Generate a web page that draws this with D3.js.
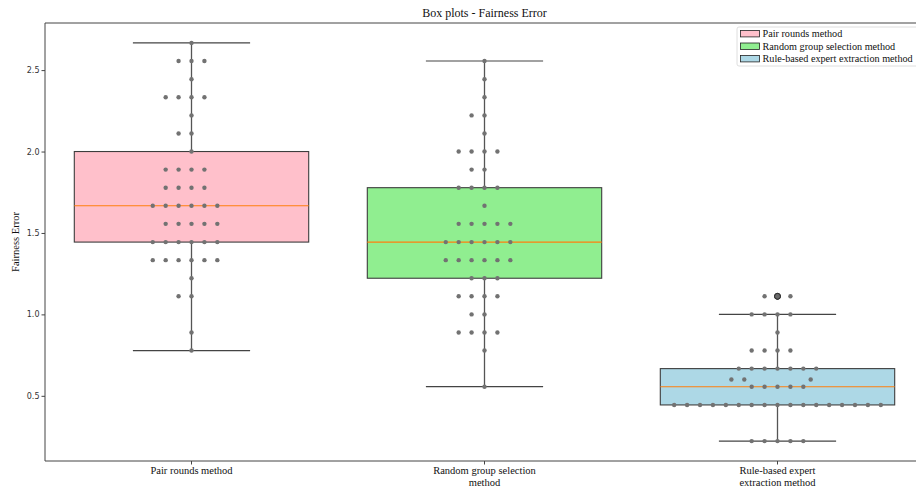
<!DOCTYPE html>
<html>
<head>
<meta charset="utf-8">
<script src="https://cdn.jsdelivr.net/npm/d3@7"></script>
<style>
    body { margin: 0; background: #fff; }
    svg { display: block; }
    .serif { font-family: "Liberation Serif", "Times New Roman", serif; }
    .sans { font-family: "DejaVu Sans", sans-serif; }
</style>
</head>
<body>
<div id="chart"></div>
<script>
    'use strict';

    // categories and colours of the three methods
    var categories = ['Pair rounds method', 'Random group selection method', 'Rule-based expert extraction method'];
    var tickLabels = [['Pair rounds method'], ['Random group selection', 'method'], ['Rule-based expert', 'extraction method']];
    var boxColors = ['pink', 'lightgreen', 'lightblue'];

    // fairness error of each run
    var pairRounds = [
        0.778, 0.889, 1.111, 1.111, 1.222,
        1.333, 1.333, 1.333, 1.333, 1.333, 1.333,
        1.444, 1.444, 1.444, 1.444, 1.444, 1.444,
        1.556, 1.556, 1.556, 1.556, 1.556,
        1.667, 1.667, 1.667, 1.667, 1.667, 1.667,
        1.778, 1.778, 1.778, 1.778,
        1.889, 1.889, 1.889, 1.889,
        2.000, 2.111, 2.111, 2.222,
        2.333, 2.333, 2.333, 2.333,
        2.444, 2.556, 2.556, 2.556, 2.667
    ];
    var randomGroup = [
        0.556, 0.778, 0.889, 0.889, 0.889, 0.889,
        1.000, 1.000, 1.111, 1.111, 1.111, 1.111,
        1.222, 1.222, 1.222,
        1.333, 1.333, 1.333, 1.333, 1.333, 1.333,
        1.444, 1.444, 1.444, 1.444, 1.444, 1.444,
        1.556, 1.556, 1.556, 1.556, 1.556,
        1.667, 1.778, 1.778, 1.778, 1.778,
        1.889, 1.889, 2.000, 2.000, 2.000, 2.000,
        2.111, 2.222, 2.222, 2.333, 2.444, 2.556
    ];
    var ruleBased = [
        0.222, 0.222, 0.222, 0.222, 0.222,
        0.444, 0.444, 0.444, 0.444, 0.444, 0.444, 0.444, 0.444, 0.444,
        0.444, 0.444, 0.444, 0.444, 0.444, 0.444, 0.444, 0.444,
        0.556, 0.556, 0.556, 0.556, 0.556,
        0.600, 0.600, 0.600,
        0.667, 0.667, 0.667, 0.667, 0.667, 0.667, 0.667,
        0.778, 0.778, 0.778, 0.778, 0.889,
        1.000, 1.000, 1.000, 1.000,
        1.111, 1.111, 1.111
    ];
    var series = [pairRounds, randomGroup, ruleBased];
    var yTicks = [0.5, 1.0, 1.5, 2.0, 2.5];

    var width = 916,
        height = 491,
        margin = { left: 45, right: -8, top: 23, bottom: 30 },
        dotSize = 12.3,
        swarmStretch = 1.41;

    var svg = d3.select('#chart').append('svg')
        .attr('width', width)
        .attr('height', height);

    var all = d3.merge(series),
        lo = d3.min(all),
        hi = d3.max(all),
        pad = (hi - lo) * 0.05;

    var x = d3.scaleBand()
        .domain(categories)
        .range([margin.left, width - margin.right])
        .padding(0);

    var y = d3.scaleLinear()
        .domain([lo - pad, hi + pad])
        .range([height - margin.bottom, margin.top]);

    var bw = x.bandwidth(),
        boxW = bw * 0.8,
        capW = boxW * 0.5;

    function stats(values) {
        var s = values.slice().sort(d3.ascending);
        var q1 = d3.quantile(s, 0.25),
            med = d3.quantile(s, 0.5),
            q3 = d3.quantile(s, 0.75),
            iqr = q3 - q1;
        var inside = s.filter(function (v) { return v >= q1 - 1.5 * iqr && v <= q3 + 1.5 * iqr; });
        return {
            q1: q1, med: med, q3: q3,
            low: d3.min(inside), high: d3.max(inside),
            fliers: s.filter(function (v) { return v < q1 - 1.5 * iqr || v > q3 + 1.5 * iqr; })
        };
    }

    // seaborn-like beeswarm, offsets in pixels from the category centre
    function swarm(values) {
        var pts = values.slice().sort(d3.ascending).map(function (v) {
            return { v: v, yl: (y.range()[0] - y(v)) * swarmStretch, dx: 0 };
        });
        var placed = [];
        pts.forEach(function (p, i) {
            if (i === 0) { placed.push(p); return; }
            var neighbors = [];
            for (var j = placed.length - 1; j >= 0; j--) {
                if (p.yl - placed[j].yl < dotSize) neighbors.push(placed[j]);
                else break;
            }
            neighbors.reverse();
            var cands = [0], leftFirst = true;
            neighbors.forEach(function (n) {
                var dy = p.yl - n.yl;
                var dx = Math.sqrt(Math.max(dotSize * dotSize - dy * dy, 0)) * 1.05;
                if (leftFirst) cands.push(n.dx - dx, n.dx + dx);
                else cands.push(n.dx + dx, n.dx - dx);
                leftFirst = !leftFirst;
            });
            var order = cands.map(function (c, k) { return { c: c, k: k }; })
                .sort(function (a, b) {
                    var d = Math.abs(a.c) - Math.abs(b.c);
                    return Math.abs(d) > 1e-9 ? d : a.k - b.k;
                });
            for (var m = 0; m < order.length; m++) {
                var c = order[m].c;
                var ok = neighbors.every(function (n) {
                    var ddx = n.dx - c, ddy = n.yl - p.yl;
                    return ddx * ddx + ddy * ddy >= dotSize * dotSize - 1e-9;
                });
                if (ok) { p.dx = c; break; }
            }
            placed.push(p);
        });
        return placed;
    }

    // axes frame
    var frame = svg.append('g');
    frame.append('line')
        .attr('x1', margin.left).attr('x2', margin.left)
        .attr('y1', margin.top).attr('y2', height - margin.bottom);
    frame.append('line')
        .attr('x1', margin.left).attr('x2', width - margin.right)
        .attr('y1', margin.top).attr('y2', margin.top);
    frame.append('line')
        .attr('x1', margin.left).attr('x2', width - margin.right)
        .attr('y1', height - margin.bottom).attr('y2', height - margin.bottom);
    frame.selectAll('line').style('stroke', '#444').style('stroke-width', 1);

    // y axis
    var yAxis = svg.append('g')
        .attr('transform', 'translate(' + margin.left + ',0)')
        .call(d3.axisLeft(y).tickValues(yTicks).tickFormat(d3.format('.1f')).tickSize(3.5).tickPadding(2));
    yAxis.select('.domain').remove();
    yAxis.selectAll('line').style('stroke', '#444');
    yAxis.selectAll('text')
        .attr('class', 'sans')
        .style('font-size', '8px')
        .style('fill', '#333');

    // x ticks and wrapped labels
    var xg = svg.append('g').attr('transform', 'translate(0,' + (height - margin.bottom) + ')');
    categories.forEach(function (c, i) {
        var cx = x(c) + bw / 2;
        xg.append('line')
            .attr('x1', cx).attr('x2', cx)
            .attr('y1', 0).attr('y2', 3.5)
            .style('stroke', '#444');
        var t = xg.append('text')
            .attr('class', 'serif')
            .attr('text-anchor', 'middle')
            .style('font-size', '10.5px')
            .style('fill', '#111');
        tickLabels[i].forEach(function (line, k) {
            t.append('tspan')
                .attr('x', cx)
                .attr('y', 13 + k * 12.3)
                .text(line);
        });
    });

    // boxes
    var plot = svg.append('g');
    series.forEach(function (values, i) {
        var s = stats(values),
            cx = x(categories[i]) + bw / 2;

        plot.append('line')
            .attr('x1', cx).attr('x2', cx)
            .attr('y1', y(s.q3)).attr('y2', y(s.high))
            .style('stroke', '#555').style('stroke-width', 1.3);
        plot.append('line')
            .attr('x1', cx).attr('x2', cx)
            .attr('y1', y(s.q1)).attr('y2', y(s.low))
            .style('stroke', '#555').style('stroke-width', 1.3);

        plot.append('rect')
            .attr('x', cx - boxW / 2)
            .attr('y', y(s.q3))
            .attr('width', boxW)
            .attr('height', y(s.q1) - y(s.q3))
            .style('fill', boxColors[i])
            .style('stroke', '#3d3d3d')
            .style('stroke-width', 1.1);

        plot.append('line')
            .attr('x1', cx - boxW / 2).attr('x2', cx + boxW / 2)
            .attr('y1', y(s.med)).attr('y2', y(s.med))
            .style('stroke', '#ff7f0e').style('stroke-width', 1.1);

        [s.low, s.high].forEach(function (v) {
            plot.append('line')
                .attr('x1', cx - capW / 2).attr('x2', cx + capW / 2)
                .attr('y1', y(v)).attr('y2', y(v))
                .style('stroke', '#444').style('stroke-width', 1.2);
        });

        plot.selectAll(null)
            .data(swarm(values))
            .enter().append('circle')
            .attr('cx', function (d) { return cx + d.dx; })
            .attr('cy', function (d) { return y(d.v); })
            .attr('r', 2.2)
            .style('fill', '#727272');

        plot.selectAll(null)
            .data(s.fliers)
            .enter().append('circle')
            .attr('cx', cx)
            .attr('cy', function (d) { return y(d); })
            .attr('r', 2.9)
            .style('fill', '#6a6a6a')
            .style('stroke', '#2a2a2a')
            .style('stroke-width', 0.9);
    });

    // title and y label
    svg.append('text')
        .attr('class', 'serif')
        .attr('x', (margin.left + width - margin.right) / 2)
        .attr('y', 17)
        .attr('text-anchor', 'middle')
        .style('font-size', '12px')
        .style('fill', '#111')
        .text('Box plots - Fairness Error');

    svg.append('text')
        .attr('class', 'serif')
        .attr('transform', 'translate(19,' + ((margin.top + height - margin.bottom) / 2) + ') rotate(-90)')
        .attr('text-anchor', 'middle')
        .style('font-size', '10.5px')
        .style('fill', '#111')
        .text('Fairness Error');

    // legend
    var legend = svg.append('g').attr('transform', 'translate(737,27)');
    legend.append('rect')
        .attr('width', 190)
        .attr('height', 39)
        .attr('rx', 2)
        .style('fill', '#fff')
        .style('stroke', '#d5d5d5')
        .style('stroke-width', 0.8);
    categories.forEach(function (c, i) {
        var row = legend.append('g').attr('transform', 'translate(0,' + (6.7 + i * 12.5) + ')');
        row.append('rect')
            .attr('x', 3.5).attr('y', -3.2)
            .attr('width', 19).attr('height', 6.4)
            .style('fill', boxColors[i])
            .style('stroke', '#222')
            .style('stroke-width', 0.8);
        row.append('text')
            .attr('class', 'serif')
            .attr('x', 25.5)
            .attr('y', 3.6)
            .style('font-size', '10.2px')
            .style('fill', '#111')
            .text(c);
    });
</script>
</body>
</html>
